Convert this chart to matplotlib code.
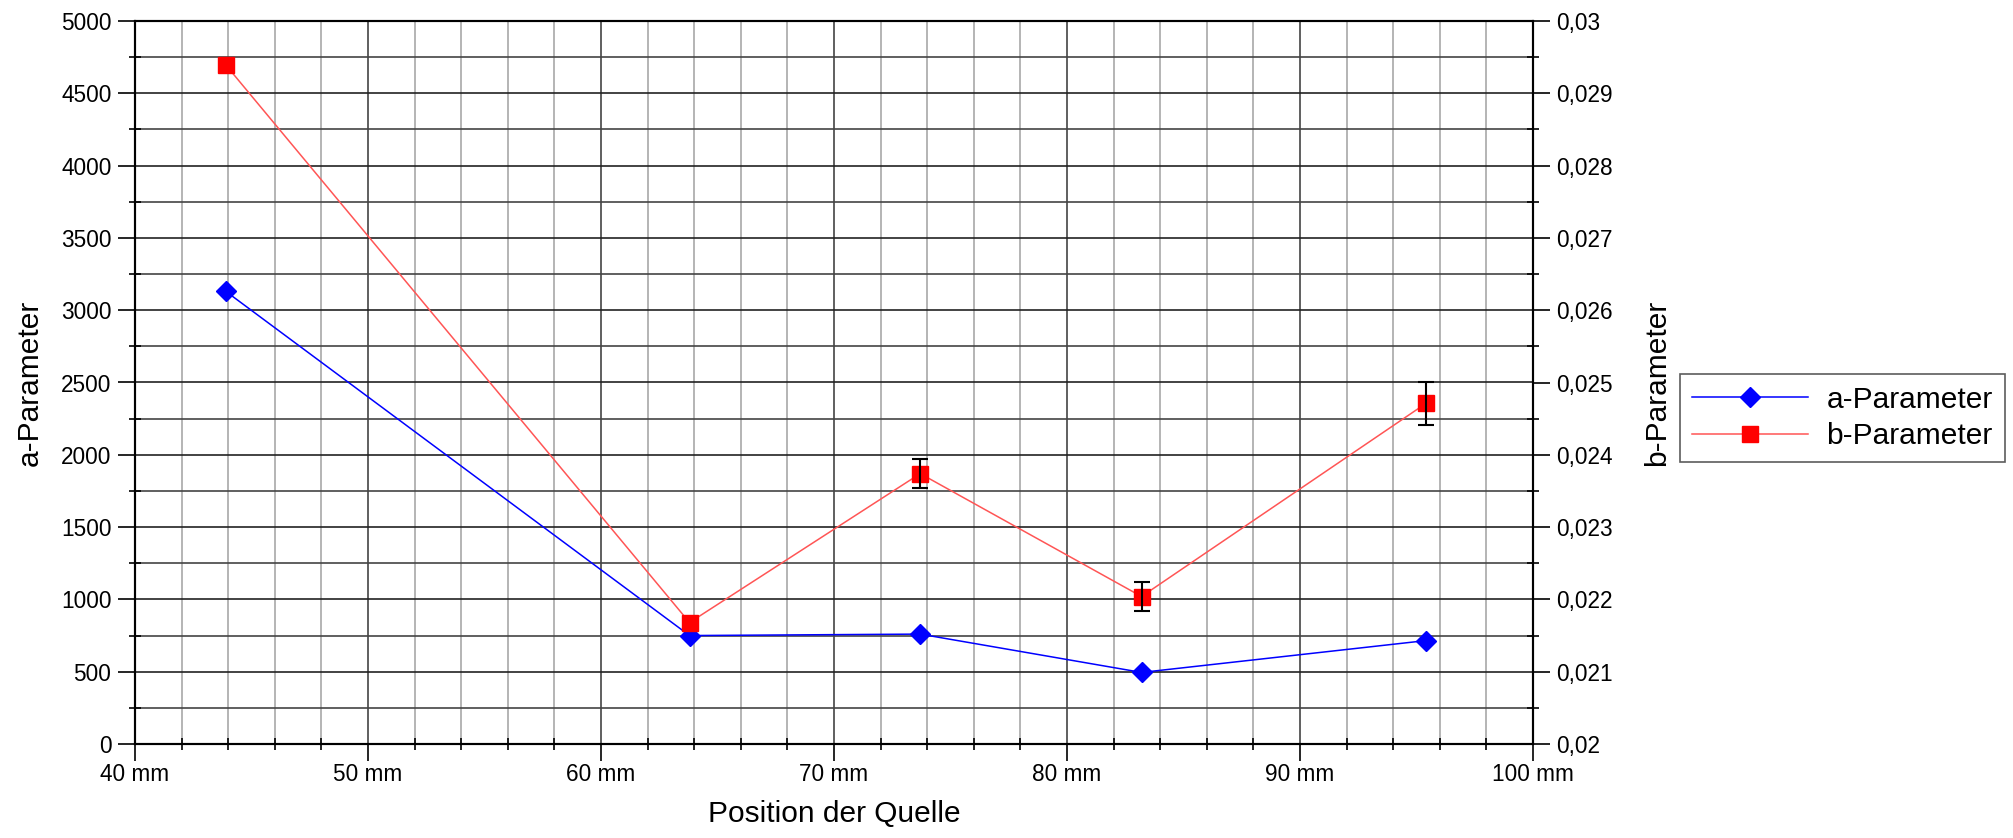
import matplotlib
matplotlib.use("Agg")
import matplotlib.pyplot as plt
from matplotlib.ticker import MultipleLocator, FuncFormatter

plt.rcParams['font.family'] = ['Liberation Sans', 'DejaVu Sans']

# Data
positions_mm = [43.9, 63.8, 73.7, 83.2, 95.4]
a_param = [3130, 750, 760, 495, 715]
b_param = [0.02939, 0.02168, 0.02374, 0.02204, 0.02471]
b_err = [0.0, 0.0, 0.0002, 0.0002, 0.0003]

fig = plt.figure(figsize=(20.13, 8.38), dpi=100)
ax = fig.add_axes([135/2013, 94/838, (1533-135)/2013, (744-21)/838])
ax2 = ax.twinx()

ax.set_xlim(40, 100)
ax.set_ylim(0, 5000)
ax2.set_ylim(0.02, 0.03)

ax.xaxis.set_major_locator(MultipleLocator(10))
ax.xaxis.set_minor_locator(MultipleLocator(2))
ax.yaxis.set_major_locator(MultipleLocator(500))
ax.yaxis.set_minor_locator(MultipleLocator(250))
ax2.yaxis.set_major_locator(MultipleLocator(0.001))
ax2.yaxis.set_minor_locator(MultipleLocator(0.0005))

ax.xaxis.set_major_formatter(FuncFormatter(lambda v, p: f"{v:.0f} mm"))
ax.yaxis.set_major_formatter(FuncFormatter(lambda v, p: f"{v:.0f}"))
def bfmt(v, p):
    s = f"{v:.3f}".rstrip('0')
    return s.replace('.', ',')
ax2.yaxis.set_major_formatter(FuncFormatter(bfmt))

# grid
ax.grid(which='major', axis='x', color='#444444', lw=1.2)
ax.grid(which='minor', axis='x', color='#a8a8a8', lw=1.2)
ax.grid(which='major', axis='y', color='#222222', lw=1.2)
ax.grid(which='minor', axis='y', color='#444444', lw=1.2)
ax.set_axisbelow(True)

for a in (ax, ax2):
    for s in a.spines.values():
        s.set_color('black')
        s.set_linewidth(1.5)

ax.tick_params(which='major', direction='out', length=12, width=1.2, labelsize=16.3, pad=5)
ax.tick_params(axis='x', which='major', pad=1.5)
ax.tick_params(which='minor', direction='inout', length=8, width=1.2)
ax2.tick_params(which='major', direction='out', length=12, width=1.2, labelsize=16.3, pad=5)
ax2.tick_params(which='minor', direction='inout', length=8, width=1.2)

la, = ax.plot(positions_mm, a_param, color='#0000ff', lw=1.1, marker='D', ms=10,
              markeredgecolor='#0000ff', markerfacecolor='#0000ff', label='a-Parameter', zorder=3)
err_idx = [i for i, e in enumerate(b_err) if e > 0]
ax2.errorbar([positions_mm[i] for i in err_idx], [b_param[i] for i in err_idx],
             yerr=[b_err[i] for i in err_idx], fmt='none', ecolor='black',
             elinewidth=1.5, capsize=5.5, capthick=1.5, zorder=4)
lb, = ax2.plot(positions_mm, b_param, color='#ff5555', lw=1.1, marker='s', ms=11.5,
               markeredgecolor='#ff0000', markerfacecolor='#ff0000', label='b-Parameter', zorder=3)

ax.set_ylabel('a-Parameter', fontsize=21.5, va='center')
ax.yaxis.set_label_coords(-0.0755, 0.5)
ax2.set_ylabel('b-Parameter', fontsize=21.5, va='center')
ax2.yaxis.set_label_coords(1.0885, 0.5)
ax.set_xlabel('Position der Quelle', fontsize=21.5, va='center')
ax.xaxis.set_label_coords(0.5, -0.0975)

leg = fig.legend([la, lb], ['a-Parameter', 'b-Parameter'],
                 loc='center left', bbox_to_anchor=(1680/2013, 1 - 418/838),
                 fontsize=21.5, handlelength=3.9, frameon=True, fancybox=False,
                 borderpad=0.4, labelspacing=0.3, handletextpad=0.6, borderaxespad=0)
leg.get_frame().set_edgecolor('#333333')
leg.get_frame().set_linewidth(1.2)

fig.savefig('out.png', dpi=100)
